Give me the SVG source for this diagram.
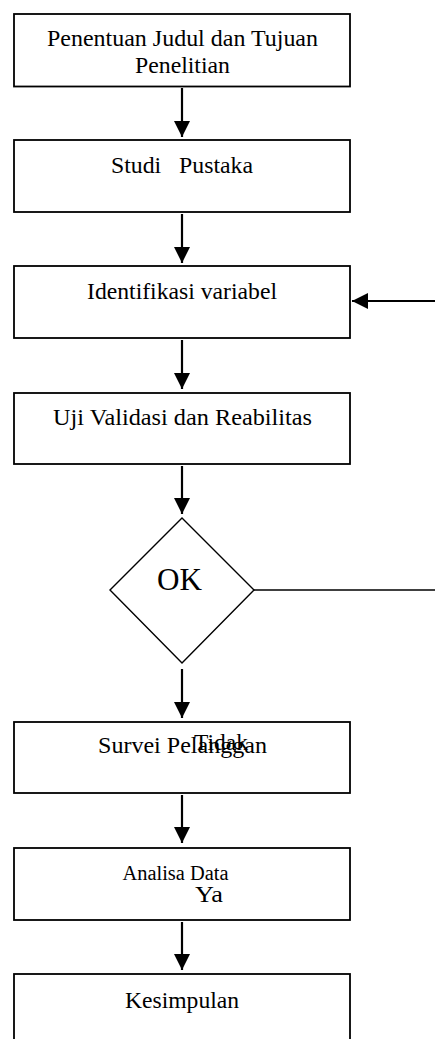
<svg xmlns="http://www.w3.org/2000/svg" width="435" height="1039" viewBox="0 0 435 1039">
<defs>
<style>
.box{fill:#fff;stroke:#000;stroke-width:1.8}
.dia{fill:#fff;stroke:#000;stroke-width:1.4}
.t{font-family:"Liberation Serif","Times New Roman",serif;font-size:23.7px;fill:#000;text-anchor:middle}
.c{stroke:#000;stroke-width:2.2;fill:none}
</style>
<marker id="ah" markerUnits="userSpaceOnUse" markerWidth="16" markerHeight="16" viewBox="0 0 15 15" refX="15" refY="7.5" orient="auto">
<path d="M0,0 L15,7.5 L0,15 Z" fill="#000"/>
</marker>
</defs>
<rect width="435" height="1039" fill="#fff"/>
<g id="connectors">
<path class="c" d="M182,88 V137" marker-end="url(#ah)"/>
<path class="c" d="M182,214 V263" marker-end="url(#ah)"/>
<path class="c" d="M182,340 V389" marker-end="url(#ah)"/>
<path class="c" d="M182,466 V514" marker-end="url(#ah)"/>
<path class="c" d="M182,669 V718" marker-end="url(#ah)"/>
<path class="c" d="M182,795 V843" marker-end="url(#ah)"/>
<path class="c" d="M182,922 V970" marker-end="url(#ah)"/>
<path class="c" d="M435,301 H352" marker-end="url(#ah)"/>
<path class="c" style="stroke-width:1.6" d="M254,590 H435"/>
</g>
<g id="n1">
<rect class="box" x="14" y="14" width="336" height="72.5"/>
<text class="t" x="182.5" y="46" textLength="271" lengthAdjust="spacingAndGlyphs">Penentuan Judul dan Tujuan</text>
<text class="t" x="182.5" y="73" textLength="95" lengthAdjust="spacingAndGlyphs">Penelitian</text>
</g>
<g id="n2">
<rect class="box" x="14" y="140" width="336" height="72"/>
<text class="t" x="182" y="173" xml:space="preserve" textLength="142" lengthAdjust="spacingAndGlyphs">Studi   Pustaka</text>
</g>
<g id="n3">
<rect class="box" x="14" y="266" width="336" height="72"/>
<text class="t" x="182" y="299" textLength="190" lengthAdjust="spacingAndGlyphs">Identifikasi variabel</text>
</g>
<g id="n4">
<rect class="box" x="14" y="393" width="336" height="71"/>
<text class="t" x="182.5" y="425" textLength="259" lengthAdjust="spacingAndGlyphs">Uji Validasi dan Reabilitas</text>
</g>
<g id="n5">
<polygon class="dia" points="182,518 254,590 182,663 110,590"/>
<text class="t" x="179.5" y="590" style="font-size:31px" textLength="45" lengthAdjust="spacingAndGlyphs">OK</text>
</g>
<g id="n6">
<rect class="box" x="14" y="722" width="336" height="71"/>
<text class="t" x="182.5" y="753" textLength="169" lengthAdjust="spacingAndGlyphs">Survei Pelanggan</text>
</g>
<g id="n7">
<rect class="box" x="14" y="848" width="336" height="72"/>
<text class="t" x="175.5" y="880" style="font-size:21.3px" textLength="106" lengthAdjust="spacingAndGlyphs">Analisa Data</text>
</g>
<g id="n8">
<rect class="box" x="14" y="974" width="336" height="75"/>
<text class="t" x="182" y="1008" textLength="114" lengthAdjust="spacingAndGlyphs">Kesimpulan</text>
</g>
<g id="labels">
<text class="t" x="221" y="750" style="font-size:23px" textLength="54" lengthAdjust="spacingAndGlyphs">Tidak</text>
<text class="t" x="209" y="902" textLength="28" lengthAdjust="spacingAndGlyphs">Ya</text>
</g>
</svg>
